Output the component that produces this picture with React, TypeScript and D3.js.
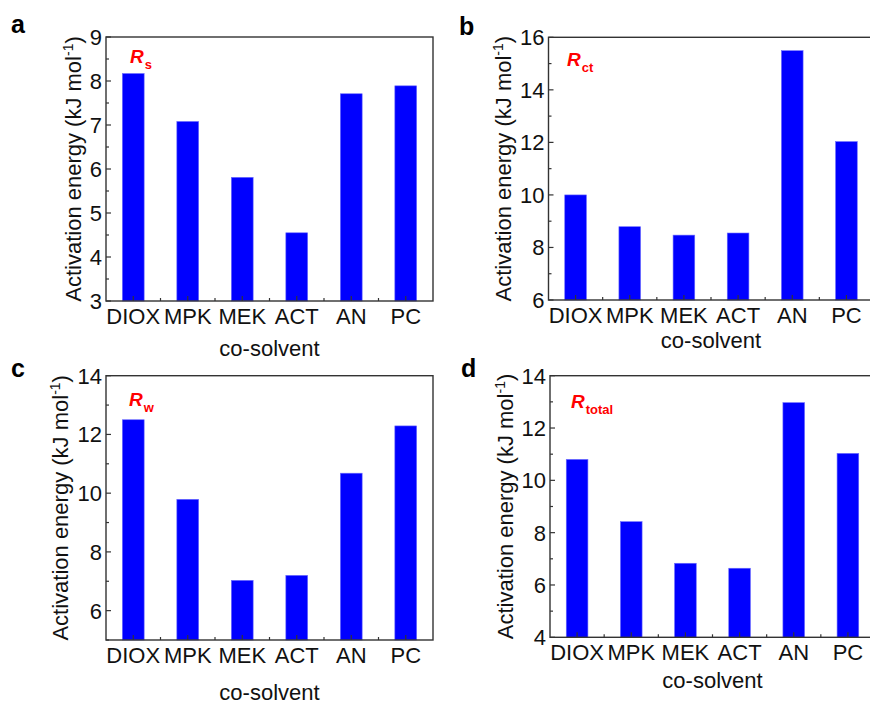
import * as d3 from 'd3'
import { useRef, useEffect } from 'react'

const solvents = ['DIOX', 'MPK', 'MEK', 'ACT', 'AN', 'PC']

// activation energies (kJ/mol)
const rsValues = [8.17, 7.08, 5.81, 4.55, 7.71, 7.89]
const rctValues = [10.0, 8.79, 8.47, 8.55, 15.49, 12.03]
const rwValues = [12.5, 9.79, 7.03, 7.2, 10.68, 12.29]
const rtotalValues = [10.8, 8.42, 6.83, 6.64, 12.97, 11.03]

const rsTicks = [3, 4, 5, 6, 7, 8, 9]
const rctTicks = [6, 8, 10, 12, 14, 16]
const rwTicks = [6, 8, 10, 12, 14]
const rtotalTicks = [4, 6, 8, 10, 12, 14]

const FONT = 'Liberation Sans, Arial, Helvetica, sans-serif'

const panels = [
  {
    letter: 'a', lx: 11, ly: 33, sub: 's', rx: 130, ry: 63,
    left: 106, top: 37, width: 327, height: 264,
    domain: [3, 9], ticks: rsTicks, minorStep: 0.5, values: rsValues,
    yLabelX: 81, xTitleY: 356
  },
  {
    letter: 'b', lx: 459, ly: 35, sub: 'ct', rx: 567, ry: 66,
    left: 548.5, top: 37.3, width: 325, height: 262.7,
    domain: [6, 16], ticks: rctTicks, minorStep: 1, values: rctValues,
    yLabelX: 511, xTitleY: 348
  },
  {
    letter: 'c', lx: 11, ly: 377, sub: 'w', rx: 129, ry: 406,
    left: 106, top: 375.7, width: 327, height: 264.3,
    domain: [5, 14], ticks: rwTicks, minorStep: 1, values: rwValues,
    yLabelX: 68, xTitleY: 700
  },
  {
    letter: 'd', lx: 461, ly: 377, sub: 'total', rx: 571, ry: 408,
    left: 550, top: 375.7, width: 325, height: 261.6,
    domain: [4, 14], ticks: rtotalTicks, minorStep: 1, values: rtotalValues,
    yLabelX: 513, xTitleY: 688
  }
]

const Chart = () => {
  const ref = useRef(null)

  useEffect(() => {
    const svg = d3.select(ref.current)
    svg.selectAll('*').remove()

    panels.forEach(p => {
      const g = svg.append('g').attr('transform', `translate(${p.left},${p.top})`)

      const x = d3.scaleBand().domain(solvents).range([0, p.width])
        .paddingInner(0.6).paddingOuter(0.3)
      const y = d3.scaleLinear().domain(p.domain).range([p.height, 0])

      // bars
      g.selectAll('rect.bar')
        .data(p.values)
        .enter()
        .append('rect')
        .attr('class', 'bar')
        .attr('x', (d, i) => x(solvents[i]))
        .attr('y', d => y(d))
        .attr('width', x.bandwidth())
        .attr('height', d => y(p.domain[0]) - y(d))
        .attr('fill', '#0000ff')
        .attr('stroke', '#6b6bff')
        .attr('stroke-width', 0.6)

      // frame
      g.append('rect')
        .attr('width', p.width).attr('height', p.height)
        .attr('fill', 'none').attr('stroke', '#333').attr('stroke-width', 1.4)

      // y ticks (inside)
      const minor = d3.range(p.domain[0], p.domain[1] + 0.001, p.minorStep)
        .filter(v => !p.ticks.includes(v))
      g.selectAll('line.ymaj').data(p.ticks).enter().append('line')
        .attr('x1', 0).attr('x2', 5).attr('y1', d => y(d)).attr('y2', d => y(d))
        .attr('stroke', '#333').attr('stroke-width', 1.2)
      g.selectAll('line.ymin').data(minor).enter().append('line')
        .attr('x1', 0).attr('x2', 3).attr('y1', d => y(d)).attr('y2', d => y(d))
        .attr('stroke', '#333').attr('stroke-width', 1.2)
      g.selectAll('text.ytick').data(p.ticks).enter().append('text')
        .attr('x', -4).attr('y', d => y(d) + 8)
        .attr('text-anchor', 'end')
        .attr('font-family', FONT).attr('font-size', 22).attr('fill', '#111')
        .text(d => d)

      // x ticks (inside): major at bars, minor between
      g.selectAll('line.xmaj').data(solvents).enter().append('line')
        .attr('x1', d => x(d) + x.bandwidth() / 2).attr('x2', d => x(d) + x.bandwidth() / 2)
        .attr('y1', p.height).attr('y2', p.height - 5)
        .attr('stroke', '#333').attr('stroke-width', 1.2)
      g.selectAll('line.xmin').data(solvents.slice(1)).enter().append('line')
        .attr('x1', d => x(d) + x.bandwidth() / 2 - x.step() / 2)
        .attr('x2', d => x(d) + x.bandwidth() / 2 - x.step() / 2)
        .attr('y1', p.height).attr('y2', p.height - 3)
        .attr('stroke', '#333').attr('stroke-width', 1.2)
      g.selectAll('text.xtick').data(solvents).enter().append('text')
        .attr('x', d => x(d) + x.bandwidth() / 2).attr('y', p.height + 23)
        .attr('text-anchor', 'middle')
        .attr('font-family', FONT).attr('font-size', 22).attr('fill', '#111')
        .text(d => d)

      // axis titles
      svg.append('text')
        .attr('x', p.left + p.width / 2).attr('y', p.xTitleY)
        .attr('text-anchor', 'middle')
        .attr('font-family', FONT).attr('font-size', 22).attr('fill', '#111')
        .text('co-solvent')

      const yl = svg.append('text')
        .attr('transform', `translate(${p.yLabelX},${p.top + p.height / 2}) rotate(-90)`)
        .attr('text-anchor', 'middle')
        .attr('font-family', FONT).attr('font-size', 22).attr('fill', '#111')
      yl.append('tspan').text('Activation energy (kJ mol')
      yl.append('tspan').attr('font-size', 14).attr('dy', -8).text('-1')
      yl.append('tspan').attr('dy', 8).text(')')

      // panel letter
      svg.append('text')
        .attr('x', p.lx).attr('y', p.ly)
        .attr('font-family', FONT).attr('font-size', 25).attr('font-weight', 'bold')
        .attr('fill', '#000')
        .text(p.letter)

      // red resistance label
      const rl = svg.append('text')
        .attr('x', p.rx).attr('y', p.ry)
        .attr('font-family', FONT).attr('font-weight', 'bold').attr('fill', '#ff0000')
      rl.append('tspan').attr('font-size', 19).attr('font-style', 'italic').text('R')
      rl.append('tspan').attr('font-size', 13).attr('dy', 6).attr('dx', 1).text(p.sub)
    })
  }, [])

  return (
    <svg ref={ref} width={870} height={704}
      style={{ position: 'absolute', left: 0, top: 0, background: '#fff' }} />
  )
}

export default function App() {
  return <Chart />
}
